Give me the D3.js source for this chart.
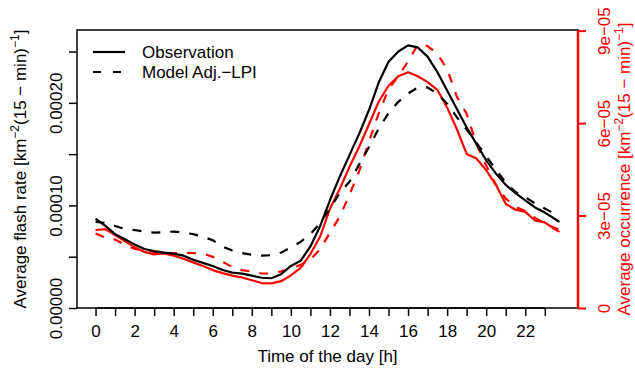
<!DOCTYPE html>
<html>
<head>
<meta charset="utf-8">
<script src="https://d3js.org/d3.v7.min.js"></script>
<style>
  body { margin: 0; background: #fff; }
  svg { display: block; font-family: "Liberation Sans", Arial, Helvetica, sans-serif; }
</style>
</head>
<body>
<div id="graph"></div>
<script>

// Time of day (h), read every half hour
var hours = [0, 0.5, 1, 1.5, 2, 2.5, 3, 3.5, 4, 4.5, 5, 5.5, 6, 6.5, 7, 7.5,
  8, 8.5, 9, 9.5, 10, 10.5, 11, 11.5, 12, 12.5, 13, 13.5, 14, 14.5, 15, 15.5,
  16, 16.5, 17, 17.5, 18, 18.5, 19, 19.5, 20, 20.5, 21, 21.5, 22, 22.5, 23, 23.5, 23.75];

// Average flash rate, units of 1e-4 km^-2 (15 min)^-1 (left axis)
var observation = [0.87, 0.80, 0.72, 0.67, 0.62, 0.575, 0.555, 0.54, 0.53, 0.51, 0.47, 0.44,
  0.41, 0.37, 0.345, 0.335, 0.315, 0.295, 0.29, 0.33, 0.41, 0.46, 0.60, 0.80,
  1.05, 1.28, 1.49, 1.70, 1.93, 2.20, 2.40, 2.50, 2.56, 2.54, 2.45, 2.30,
  2.12, 1.94, 1.76, 1.60, 1.44, 1.31, 1.20, 1.12, 1.05, 0.98, 0.93, 0.87, 0.84];
var modelLPI = [0.84, 0.83, 0.80, 0.77, 0.76, 0.745, 0.735, 0.74, 0.745, 0.735, 0.72, 0.695,
  0.66, 0.60, 0.56, 0.535, 0.52, 0.51, 0.515, 0.54, 0.59, 0.645, 0.72, 0.83,
  0.97, 1.12, 1.23, 1.40, 1.57, 1.75, 1.90, 2.01, 2.09, 2.15, 2.15, 2.09,
  1.99, 1.86, 1.74, 1.61, 1.48, 1.35, 1.22, 1.13, 1.08, 1.02, 0.97, 0.92, 0.91];

// Average occurrence, units of 1e-5 km^-2 (15 min)^-1 (right axis)
var obsOccurrence = [2.53, 2.56, 2.37, 2.17, 1.97, 1.82, 1.74, 1.77, 1.70, 1.60, 1.48, 1.36,
  1.23, 1.13, 1.05, 0.99, 0.90, 0.81, 0.80, 0.87, 1.06, 1.30, 1.75, 2.32,
  3.22, 3.86, 4.58, 5.23, 5.96, 6.70, 7.21, 7.52, 7.65, 7.52, 7.33, 7.08,
  6.50, 5.80, 5.00, 4.85, 4.47, 3.99, 3.38, 3.19, 3.12, 2.84, 2.78, 2.56, 2.47];
var modelOccurrence = [2.42, 2.28, 2.22, 2.05, 1.92, 1.87, 1.82, 1.78, 1.78, 1.79, 1.78, 1.77,
  1.66, 1.50, 1.33, 1.23, 1.18, 1.12, 1.12, 1.19, 1.28, 1.40, 1.58, 1.90,
  2.45, 2.96, 3.67, 4.45, 5.40, 6.32, 7.10, 7.52, 8.00, 8.55, 8.50, 8.24,
  7.75, 6.85, 6.30, 5.32, 4.62, 4.00, 3.55, 3.28, 3.15, 2.92, 2.76, 2.60, 2.53];

// Ticks and labels
var hourTicks = [0, 1, 2, 3, 4, 5, 6, 7, 8, 9, 10, 11, 12, 13, 14, 15, 16, 17, 18, 19, 20, 21, 22, 23];
var hourLabels = ["0", "", "2", "", "4", "", "6", "", "8", "", "10", "", "12", "", "14", "", "16", "", "18", "", "20", "", "22", ""];
var rateTicks = [0, 0.5, 1, 1.5, 2, 2.5];
var rateLabels = ["0.00000", "", "0.00010", "", "0.00020", ""];
var occTicks = [0, 3, 6, 9];
var occLabels = ["0", "3e\u221205", "6e\u221205", "9e\u221205"];

var W = 635, H = 369;
var box = {left: 77, right: 578, top: 30, bottom: 308};
var red = "#ff0000";
var fs = 17;

var svg = d3.select("#graph").append("svg")
  .attr("width", W).attr("height", H);

// Scales (R style 4% padding on x)
var x = d3.scaleLinear().domain([-0.95, 24.7]).range([box.left, box.right]);
var yL = d3.scaleLinear().domain([0, 2.71]).range([box.bottom, box.top]);
var yR = d3.scaleLinear().domain([0, 9.02]).range([box.bottom, box.top]);

// Lines
function addLine(values, yScale, color, dashed) {
  var line = d3.line()
    .x(function(d, i) { return x(hours[i]); })
    .y(function(d) { return yScale(d); });
  svg.append("path")
    .datum(values)
    .attr("d", line)
    .attr("fill", "none")
    .attr("stroke", color)
    .attr("stroke-width", 2.2)
    .attr("stroke-linejoin", "round")
    .attr("stroke-dasharray", dashed ? "9,10" : null);
}
addLine(modelOccurrence, yR, red, true);
addLine(obsOccurrence, yR, red, false);
addLine(modelLPI, yL, "#000", true);
addLine(observation, yL, "#000", false);

// Plot box
svg.append("rect")
  .attr("x", box.left).attr("y", box.top)
  .attr("width", box.right - box.left).attr("height", box.bottom - box.top)
  .attr("fill", "none").attr("stroke", "#000").attr("stroke-width", 1.5);

// Bottom axis
var xAxis = svg.append("g")
  .attr("transform", "translate(0," + box.bottom + ")")
  .call(d3.axisBottom(x).tickValues(hourTicks).tickSizeOuter(0).tickSize(8)
    .tickFormat(function(d, i) { return hourLabels[i]; }));
xAxis.select(".domain").remove();
xAxis.selectAll("line").attr("stroke", "#000").attr("stroke-width", 1.5);
xAxis.selectAll("text").attr("y", 29).attr("dy", null)
  .attr("font-size", fs).attr("fill", "#000").attr("font-family", null);
xAxis.append("line")
  .attr("x1", x(0)).attr("x2", x(23)).attr("stroke", "#000").attr("stroke-width", 1.5);

// Left axis
var lAxis = svg.append("g")
  .attr("transform", "translate(" + box.left + ",0)")
  .call(d3.axisLeft(yL).tickValues(rateTicks).tickSizeOuter(0).tickSize(8)
    .tickFormat(function(d, i) { return rateLabels[i]; }));
lAxis.select(".domain").remove();
lAxis.selectAll("line").attr("stroke", "#000").attr("stroke-width", 1.5);
lAxis.selectAll("text")
  .attr("x", 0).attr("y", -15).attr("dy", null)
  .attr("transform", "rotate(-90)")
  .attr("text-anchor", "middle")
  .attr("font-size", fs).attr("fill", "#000");

// Right axis (red)
var rAxis = svg.append("g")
  .attr("transform", "translate(" + box.right + ",0)")
  .call(d3.axisRight(yR).tickValues(occTicks).tickSizeOuter(0).tickSize(8)
    .tickFormat(function(d, i) { return occLabels[i]; }));
rAxis.select(".domain").remove();
rAxis.selectAll("line").attr("stroke", red).attr("stroke-width", 2);
rAxis.selectAll("text")
  .attr("x", 0).attr("y", 32).attr("dy", null)
  .attr("transform", "rotate(-90)")
  .attr("text-anchor", "middle")
  .attr("font-size", fs).attr("fill", red);
rAxis.append("line")
  .attr("y1", yR(0)).attr("y2", yR(9)).attr("stroke", red).attr("stroke-width", 2.5);

// Axis titles
svg.append("text")
  .attr("x", (box.left + box.right) / 2).attr("y", 362)
  .attr("text-anchor", "middle").attr("font-size", fs)
  .text("Time of the day [h]");

function unitTitle(tx, label, color) {
  var t = svg.append("text")
    .attr("transform", "translate(" + tx + "," + ((box.top + box.bottom) / 2) + ") rotate(-90)")
    .attr("text-anchor", "middle").attr("font-size", fs).attr("fill", color);
  t.append("tspan").text(label + " [km");
  t.append("tspan").attr("dy", -7).attr("font-size", 12).text("\u22122");
  t.append("tspan").attr("dy", 7).text("(15 \u2212 min)");
  t.append("tspan").attr("dy", -7).attr("font-size", 12).text("\u22121");
  t.append("tspan").attr("dy", 7).text("]");
}
unitTitle(26, "Average flash rate", "#000");
unitTitle(630, "Average occurrence", red);

// Legend
var legend = [{label: "Observation", dash: null, y: 52},
  {label: "Model Adj.\u2212LPI", dash: "8,12", y: 72}];
legend.forEach(function(d) {
  svg.append("line")
    .attr("x1", 93).attr("x2", 125).attr("y1", d.y).attr("y2", d.y)
    .attr("stroke", "#000").attr("stroke-width", 2.2)
    .attr("stroke-dasharray", d.dash);
  svg.append("text")
    .attr("x", 142).attr("y", d.y + 6)
    .attr("font-size", fs)
    .text(d.label);
});

</script>
</body>
</html>
